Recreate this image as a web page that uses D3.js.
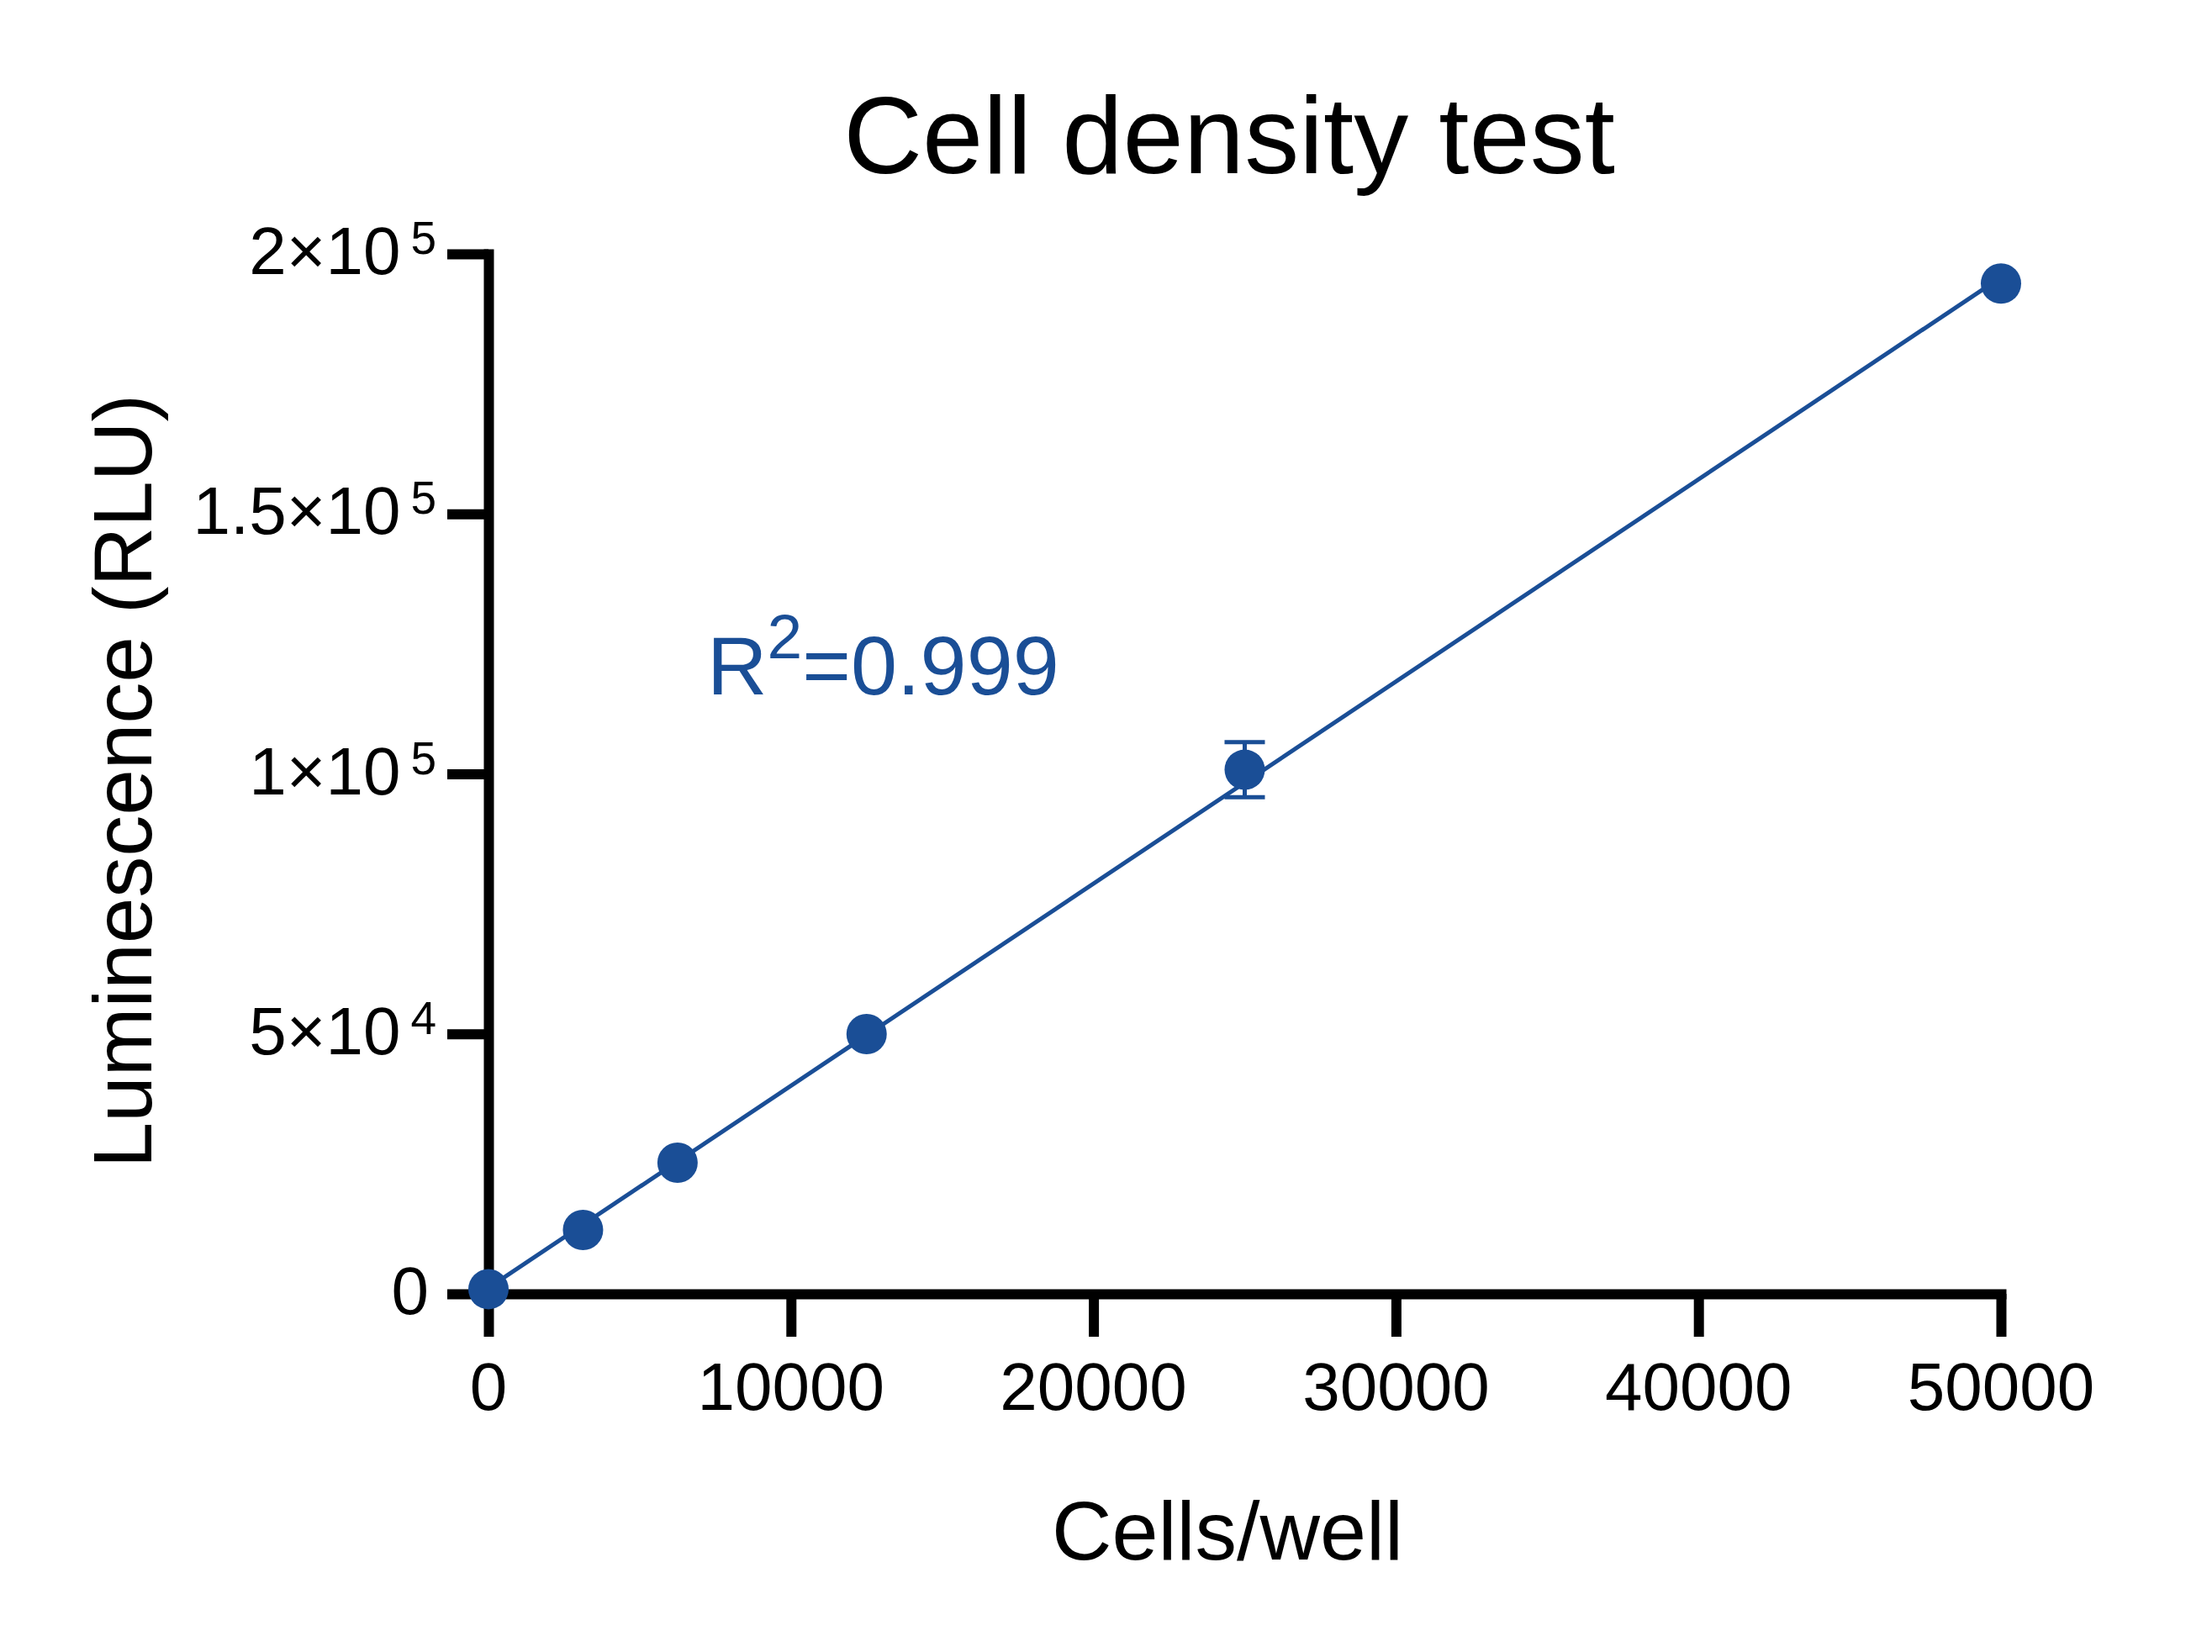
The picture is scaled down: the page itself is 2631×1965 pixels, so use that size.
<!DOCTYPE html>
<html>
<head>
<meta charset="utf-8">
<script src="https://cdn.jsdelivr.net/npm/d3@7"></script>
<style>
  html, body { margin: 0; padding: 0; background: #ffffff; }
  svg { display: block; }
  text { font-family: "Liberation Sans", Arial, Helvetica, sans-serif; }
</style>
</head>
<body>
<svg id="chart" width="2631" height="1965"></svg>
<script>
// ---- data ----
const cells = [0, 3125, 6250, 12500, 25000, 50000];
const rlu = [900, 12290, 25220, 49960, 100800, 194300];
const rluErr = [0, 0, 0, 0, 5300, 0];

const xTickValues = [0, 10000, 20000, 30000, 40000, 50000];
const xTickLabels = ["0", "10000", "20000", "30000", "40000", "50000"];
const yTickValues = [0, 50000, 100000, 150000, 200000];
const yTickMantissa = ["0", "5×10", "1×10", "1.5×10", "2×10"];
const yTickExponent = ["", "4", "5", "5", "5"];

const titleText = "Cell density test";
const xAxisTitle = "Cells/well";
const yAxisTitle = "Luminescence (RLU)";
const r2Label = ["R", "2", "=0.999"];

// ---- layout ----
const blue = "#1a4e96";
const svg = d3.select("#chart");
const x = d3.scaleLinear().domain([0, 50000]).range([581, 2380]);
const y = d3.scaleLinear().domain([0, 200000]).range([1539, 302]);

// axes
const xAxisG = svg.append("g").attr("transform", `translate(0,${y(0)})`)
  .call(d3.axisBottom(x).tickValues(xTickValues).tickSize(51).tickSizeOuter(0).tickFormat(""));
const yAxisG = svg.append("g").attr("transform", `translate(${x(0)},0)`)
  .call(d3.axisLeft(y).tickValues(yTickValues).tickSize(49).tickSizeOuter(0).tickFormat(""));

[xAxisG, yAxisG].forEach(g => {
  g.select(".domain").attr("stroke", "#000").attr("stroke-width", 12).attr("stroke-linecap", "square");
  g.selectAll(".tick line").attr("stroke", "#000").attr("stroke-width", 12);
  g.selectAll(".tick text").remove();
});

// x tick labels
svg.append("g").selectAll("text").data(xTickValues).join("text")
  .attr("x", d => x(d))
  .attr("y", y(0) + 138)
  .attr("text-anchor", "middle")
  .attr("font-size", 80)
  .attr("fill", "#000")
  .text((d, i) => xTickLabels[i]);

// y tick labels with superscripts
const yl = svg.append("g").selectAll("text").data(yTickValues).join("text")
  .attr("x", (d, i) => yTickExponent[i] ? 519 : 510)
  .attr("y", d => y(d) + 24)
  .attr("text-anchor", "end")
  .attr("font-size", 80)
  .attr("fill", "#000");
yl.append("tspan").text((d, i) => yTickMantissa[i]);
yl.filter((d, i) => yTickExponent[i] !== "")
  .append("tspan")
  .attr("font-size", 55)
  .attr("dx", 12)
  .attr("dy", -24)
  .text((d) => yTickExponent[yTickValues.indexOf(d)]);

// titles
svg.append("text").attr("x", 1462).attr("y", 206).attr("text-anchor", "middle")
  .attr("font-size", 130).attr("fill", "#000").text(titleText);
svg.append("text").attr("x", 1460).attr("y", 1855).attr("text-anchor", "middle")
  .attr("font-size", 99).attr("fill", "#000").text(xAxisTitle);
svg.append("text").attr("transform", "translate(180,929) rotate(-90)").attr("text-anchor", "middle")
  .attr("font-size", 98).attr("fill", "#000").text(yAxisTitle);

// linear regression (least squares from data)
const n = cells.length;
const mx = d3.mean(cells), my = d3.mean(rlu);
let sxy = 0, sxx = 0;
for (let i = 0; i < n; i++) { sxy += (cells[i] - mx) * (rlu[i] - my); sxx += (cells[i] - mx) ** 2; }
const slope = sxy / sxx, intercept = my - slope * mx;
const fitX = d3.extent(cells);
svg.append("path")
  .datum(fitX)
  .attr("fill", "none").attr("stroke", blue).attr("stroke-width", 5)
  .attr("d", d3.line().x(d => x(d)).y(d => y(intercept + slope * d)));

// error bars
const eb = svg.append("g").attr("stroke", blue).attr("stroke-width", 5);
cells.forEach((c, i) => {
  if (!rluErr[i]) return;
  const cx = x(c);
  eb.append("line").attr("x1", cx).attr("x2", cx).attr("y1", y(rlu[i] - rluErr[i])).attr("y2", y(rlu[i] + rluErr[i]));
  [rlu[i] - rluErr[i], rlu[i] + rluErr[i]].forEach(v => {
    eb.append("line").attr("x1", cx - 24).attr("x2", cx + 24).attr("y1", y(v)).attr("y2", y(v));
  });
});

// points
svg.append("g").selectAll("circle").data(cells).join("circle")
  .attr("cx", d => x(d))
  .attr("cy", (d, i) => y(rlu[i]))
  .attr("r", 24)
  .attr("fill", blue);

// R² annotation
const ann = svg.append("text").attr("x", 841).attr("y", 826).attr("font-size", 99).attr("fill", blue);
ann.append("tspan").text(r2Label[0]);
ann.append("tspan").attr("font-size", 75).attr("dy", -43).text(r2Label[1]);
ann.append("tspan").attr("dy", 43).text(r2Label[2]);
</script>
</body>
</html>
